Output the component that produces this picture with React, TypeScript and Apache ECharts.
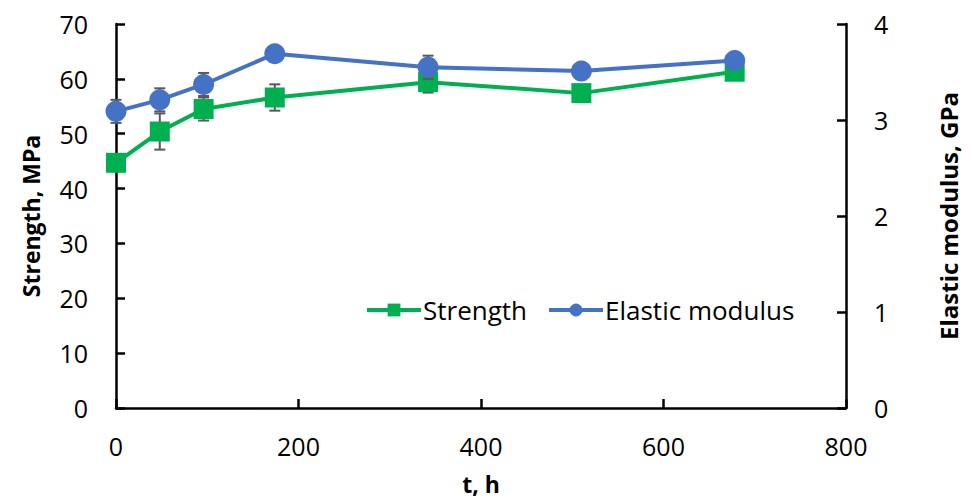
import React, { useEffect, useRef } from "react";
import * as echarts from "echarts";

// Ageing time, hours
const hours = [0, 48, 96, 174, 342, 510, 678];
// Strength, MPa, with standard deviation
const strength = [44.7, 50.4, 54.5, 56.6, 59.4, 57.4, 61.3];
const strengthErr = [1.0, 3.3, 2.1, 2.4, 1.9, 0.9, 0.9];
// Elastic modulus, GPa, with standard deviation
const modulus = [3.09, 3.21, 3.37, 3.69, 3.55, 3.51, 3.62];
const modulusErr = [0.12, 0.12, 0.12, 0.05, 0.12, 0.05, 0.05];

const FONT = "Open Sans";
const GREEN = "#00B050";
const BLUE = "#4472C4";
const ERR = "#595959";

function errorBars(params: any, api: any) {
  const x = api.value(0);
  const y = api.value(1);
  const e = api.value(2);
  const top = api.coord([x, y + e]);
  const bot = api.coord([x, y - e]);
  const hw = 5.5;
  const style = { stroke: ERR, lineWidth: 2 };
  return {
    type: "group",
    children: [
      { type: "line", shape: { x1: top[0], y1: top[1], x2: bot[0], y2: bot[1] }, style },
      { type: "line", shape: { x1: top[0] - hw, y1: top[1], x2: top[0] + hw, y2: top[1] }, style },
      { type: "line", shape: { x1: bot[0] - hw, y1: bot[1], x2: bot[0] + hw, y2: bot[1] }, style },
    ],
  };
}

export default function App() {
  const ref = useRef<HTMLDivElement>(null);

  useEffect(() => {
    if (!ref.current) return;
    const chart = echarts.init(ref.current, undefined, { renderer: "svg" });

    const axisLine = { show: true, lineStyle: { color: "#000", width: 2.5 } };
    const axisTick = { show: true, inside: true, length: 9, lineStyle: { color: "#000", width: 2.5 } };
    const axisLabel = { color: "#000", fontFamily: FONT, fontSize: 25 };
    const nameStyle = { color: "#000", fontFamily: FONT, fontSize: 23, fontWeight: "bold" as const };

    chart.setOption({
      animation: false,
      backgroundColor: "#fff",
      textStyle: { fontFamily: FONT },
      grid: { left: 116, right: 127, top: 24, bottom: 92 },
      legend: {
        data: ["Strength", "Elastic modulus"],
        left: 360,
        top: 292,
        itemWidth: 54,
        itemHeight: 16,
        itemGap: 20,
        lineStyle: { width: 4 },
        textStyle: { color: "#000", fontFamily: FONT, fontSize: 26, padding: [0, 0, 0, -3] },
      },
      xAxis: {
        type: "value",
        min: 0,
        max: 800,
        interval: 200,
        axisLine,
        axisTick,
        splitLine: { show: false },
        axisLabel: { ...axisLabel, margin: 25 },
        name: "t, h",
        nameLocation: "middle",
        nameGap: 64,
        nameTextStyle: nameStyle,
      },
      yAxis: [
        {
          type: "value",
          min: 0,
          max: 70,
          interval: 10,
          axisLine,
          axisTick,
          splitLine: { show: false },
          axisLabel: { ...axisLabel, margin: 28 },
          name: "Strength, MPa",
          nameLocation: "middle",
          nameGap: 74,
          nameRotate: 90,
          nameTextStyle: nameStyle,
        },
        {
          type: "value",
          position: "right",
          min: 0,
          max: 4,
          interval: 1,
          axisLine,
          axisTick,
          splitLine: { show: false },
          axisLabel: { ...axisLabel, margin: 28 },
          name: "Elastic modulus, GPa",
          nameLocation: "middle",
          nameGap: 90,
          nameRotate: 90,
          nameTextStyle: { ...nameStyle, fontSize: 24 },
        },
      ],
      series: [
        {
          name: "Strength error",
          type: "custom",
          xAxisIndex: 0,
          yAxisIndex: 0,
          renderItem: errorBars,
          encode: { x: 0, y: 1 },
          data: hours.map((t, i) => [t, strength[i], strengthErr[i]]),
          z: 1,
          silent: true,
        },
        {
          name: "Strength",
          type: "line",
          yAxisIndex: 0,
          data: hours.map((t, i) => [t, strength[i]]),
          symbol: "rect",
          symbolSize: 20,
          lineStyle: { color: GREEN, width: 4 },
          itemStyle: { color: GREEN },
          z: 2,
        },
        {
          name: "Elastic modulus error",
          type: "custom",
          xAxisIndex: 0,
          yAxisIndex: 1,
          renderItem: errorBars,
          encode: { x: 0, y: 1 },
          data: hours.map((t, i) => [t, modulus[i], modulusErr[i]]),
          z: 3,
          silent: true,
        },
        {
          name: "Elastic modulus",
          type: "line",
          yAxisIndex: 1,
          data: hours.map((t, i) => [t, modulus[i]]),
          symbol: "circle",
          symbolSize: 21,
          lineStyle: { color: BLUE, width: 4 },
          itemStyle: { color: BLUE },
          z: 4,
        },
      ],
    });

    return () => chart.dispose();
  }, []);

  return <div ref={ref} style={{ width: 973, height: 500, position: "absolute", left: 0, top: 0 }} />;
}
